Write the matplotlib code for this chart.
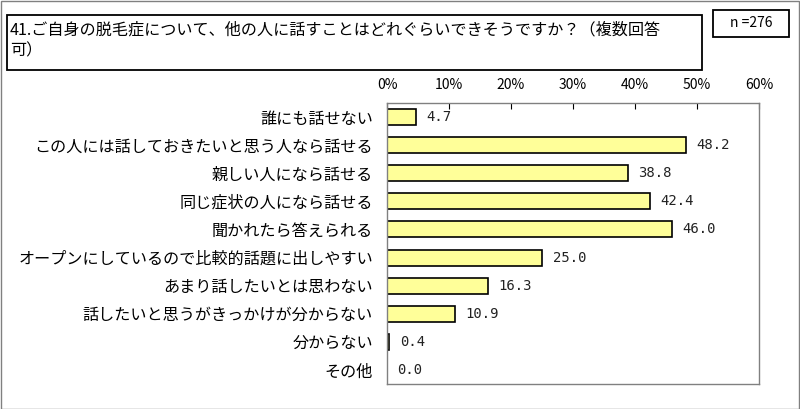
import matplotlib
matplotlib.use('Agg')
import matplotlib.pyplot as plt
from matplotlib.patches import Rectangle

plt.rcParams['font.family'] = ['Noto Sans CJK JP', 'DejaVu Sans']

# data
labels = ['誰にも話せない', 'この人には話しておきたいと思う人なら話せる', '親しい人になら話せる',
          '同じ症状の人になら話せる', '聞かれたら答えられる', 'オープンにしているので比較的話題に出しやすい',
          'あまり話したいとは思わない', '話したいと思うがきっかけが分からない', '分からない', 'その他']
values = [4.7, 48.2, 38.8, 42.4, 46.0, 25.0, 16.3, 10.9, 0.4, 0.0]
xticks = [0, 10, 20, 30, 40, 50, 60]
title_lines = ['41.ご自身の脱毛症について、他の人に話すことはどれぐらいできそうですか？（複数回答', '可）']
n_text = 'n =276'

W, H = 800, 409
fig = plt.figure(figsize=(W / 100, H / 100), dpi=100)

def px(x0, y0, x1, y1):
    # pixel box -> figure fraction [left, bottom, width, height]
    return [x0 / W, 1 - y1 / H, (x1 - x0) / W, (y1 - y0) / H]

# outer frame
fig.patches.append(Rectangle((0.5 / W, 0.5 / H), 1 - 1.5 / W, 1 - 1.5 / H, transform=fig.transFigure,
                             fill=False, edgecolor='#808080', linewidth=1))
# title box
fig.patches.append(Rectangle((7 / W, 1 - 70 / H), (702 - 7) / W, (70 - 15) / H, transform=fig.transFigure,
                             fill=False, edgecolor='black', linewidth=1.3))
fig.text(10 / W, 1 - 30 / H, title_lines[0], ha='left', va='center', fontsize=11.6)
fig.text(10 / W, 1 - 51 / H, title_lines[1], ha='left', va='center', fontsize=11.6)
# n box
fig.patches.append(Rectangle((713 / W, 1 - 37 / H), (789 - 713) / W, (37 - 10) / H, transform=fig.transFigure,
                             fill=False, edgecolor='black', linewidth=1.3))
fig.text(751 / W, 1 - 23 / H, n_text, ha='center', va='center', fontsize=10)

ax = fig.add_axes(px(387, 103, 759, 384))
y = list(range(len(labels)))
ax.barh(y, values, height=0.57, color='#FFFF99', edgecolor='black', linewidth=1.2)
for yi, v in zip(y, values):
    ax.text(v + 1.7, yi, f'{v:.1f}', va='center', ha='left', fontsize=10,
            family='DejaVu Sans Mono', color='#222222')

ax.set_xlim(0, 60)
ax.set_ylim(len(labels) - 0.5, -0.5)
ax.set_xticks(xticks)
ax.set_xticklabels([f'{t}%' for t in xticks])
ax.set_yticks(y)
ax.set_yticklabels(labels)
ax.xaxis.tick_top()
ax.tick_params(axis='x', direction='in', length=4, pad=8, labelsize=10, color='black')
ax.tick_params(axis='y', length=0, pad=10, labelsize=11.6)
for s in ax.spines.values():
    s.set_color('#808080')
    s.set_linewidth(1)

fig.savefig('out.png', dpi=100)
